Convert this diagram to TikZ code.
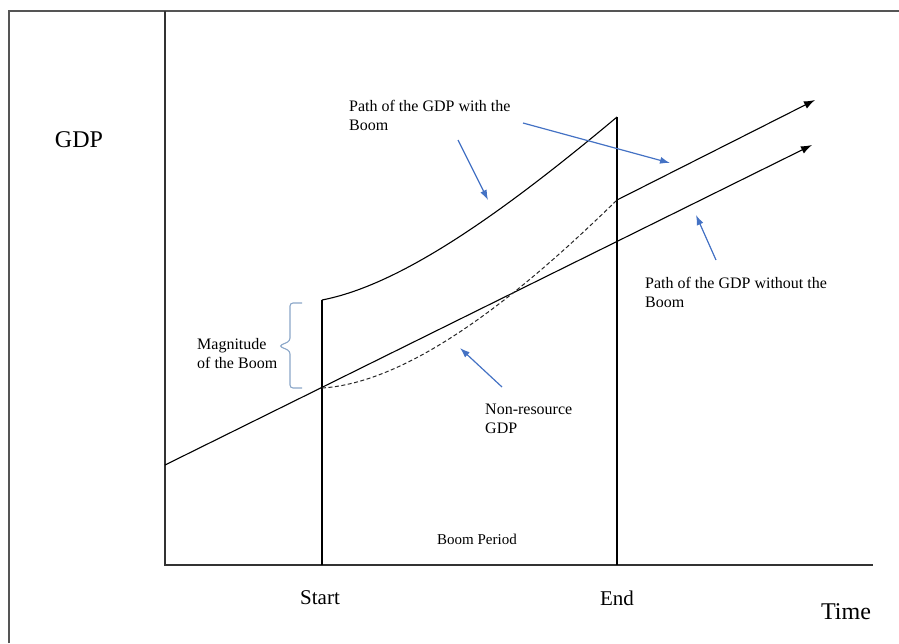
\documentclass[tikz,border=0pt]{standalone}
\usepackage{fontspec}
\setmainfont{Liberation Serif}
\usetikzlibrary{arrows.meta}
\definecolor{Note}{HTML}{4472C4}
\definecolor{BraceBlue}{HTML}{8AA6C8}
\definecolor{Frame}{HTML}{555555}
\tikzset{
growthframe/.style={draw=Frame, line width=1.6pt},
growthaxis/.style={draw=black!80, line width=1.1pt},
growthline/.style={draw=black, line width=1.1pt},
growtharrow/.style={-{Latex[length=11pt,width=8pt]}, line width=1.1pt, draw=black},
growthdash/.style={draw=black!85, line width=1pt, dash pattern=on 4pt off 2.5pt},
growthnote/.style={-{Latex[length=10pt,width=7pt]}, line width=1.2pt, draw=Note},
growthbrace/.style={draw=BraceBlue, line width=1.1pt, rounded corners=3pt},
growthtext/.style={anchor=north west, align=left, inner sep=0pt, font=\fontsize{16}{19}\selectfont},
growthsmall/.style={inner sep=0pt, font=\fontsize{15}{18}\selectfont},
growthlabel/.style={inner sep=0pt, font=\fontsize{21}{25}\selectfont},
growthbig/.style={inner sep=0pt, font=\fontsize{24}{28}\selectfont}
}

\begin{document}
\begin{tikzpicture}[x=1pt, y=-1pt, >=Latex]
  \useasboundingbox (0,0) rectangle (899,643);
  % frame and axes
  \coordinate (frameBL) at (9,643);
  \coordinate (frameTL) at (9,11);
  \coordinate (frameTR) at (899,11);
  \coordinate (axisTop) at (165,11);
  \coordinate (origin) at (165,565);
  \coordinate (axisEnd) at (873,565);
  \draw[growthframe] (frameBL) -- (frameTL) -- (frameTR);
  \draw[growthaxis] (axisTop) -- (origin) -- (axisEnd);
  % boom period
  \coordinate (startTop) at (322,300);
  \coordinate (startBot) at (322,565);
  \coordinate (endTop) at (617,117);
  \coordinate (endBot) at (617,565);
  \draw[growthline] (startBot) -- (startTop);
  \draw[growthline] (endBot) -- (endTop);
  \draw[growthline] (startTop) .. controls (400,285) and (500,215) .. (endTop);
  % trend paths
  \coordinate (trendBeg) at (165,465);
  \coordinate (startTrend) at (322,388);
  \coordinate (trendTip) at (812,145);
  \coordinate (afterEnd) at (617,200);
  \coordinate (boomTip) at (815,100);
  \draw[growtharrow] (trendBeg) -- (trendTip);
  \draw[growtharrow] (afterEnd) -- (boomTip);
  \draw[growthdash] (startTrend) .. controls (420,382) and (540,275) .. (afterEnd);
  % labels
  \node[growthbig] (gdp) at (79,140) {GDP};
  \node[growthbig] (time) at (846,612) {Time};
  \node[growthlabel] (start) at (320,598) {Start};
  \node[growthlabel] (end) at (617,598) {End};
  \node[growthsmall] (period) at (477,539) {Boom Period};
  \node[growthtext] (withLbl) at (349,100) {Path of the GDP with the\\Boom};
  \node[growthtext] (withoutLbl) at (645,277) {Path of the GDP without the\\Boom};
  \node[growthtext] (nonLbl) at (485,404) {Non-resource\\GDP};
  \node[growthtext] (magLbl) at (197,338) {Magnitude\\of the Boom};
  % annotation arrows
  \coordinate (withA) at (458,140);
  \coordinate (withAtip) at (488,200);
  \coordinate (withB) at (523,123);
  \coordinate (withBtip) at (670,163);
  \coordinate (nonA) at (502,387);
  \coordinate (nonAtip) at (460,348);
  \coordinate (withoutA) at (716,260);
  \coordinate (withoutAtip) at (696,215);
  \draw[growthnote] (withA) -- (withAtip);
  \draw[growthnote] (withB) -- (withBtip);
  \draw[growthnote] (nonA) -- (nonAtip);
  \draw[growthnote] (withoutA) -- (withoutAtip);
  % magnitude brace
  \coordinate (braceTop) at (302,303);
  \coordinate (braceBot) at (302,388);
  \draw[growthbrace] (braceTop) -- (290,303) -- (290,341) -- (279,346) -- (290,351) -- (290,388) -- (braceBot);
\end{tikzpicture}
\end{document}
